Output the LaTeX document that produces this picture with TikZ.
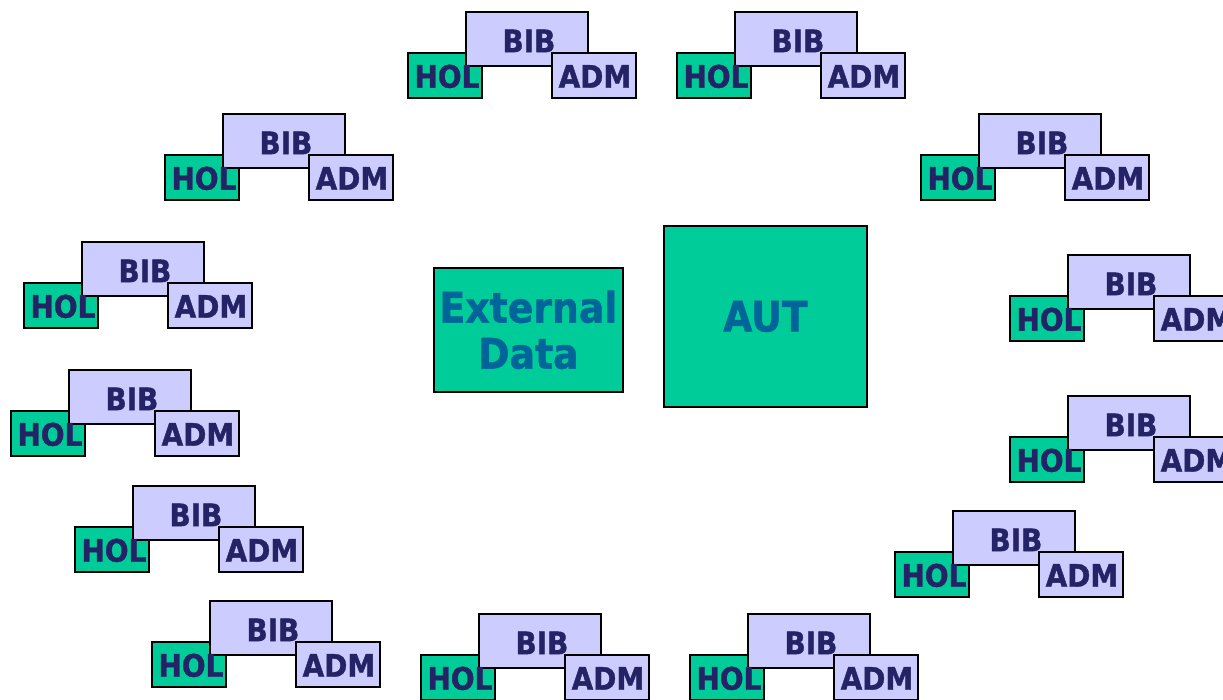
\documentclass[tikz,border=0pt]{standalone}
\usepackage{fontspec}
\setmainfont{DejaVu Sans Condensed}[BoldFeatures={FakeBold=1.2}]
\usepackage{tikz}
\usetikzlibrary{positioning}

\definecolor{holgreen}{HTML}{00CC99}
\definecolor{biblav}{HTML}{CCCCFF}
\definecolor{lblnavy}{HTML}{232366}
\definecolor{autblue}{HTML}{006699}

\tikzset{
  box/.style={draw=black, line width=1.8pt, rectangle, inner sep=0pt, anchor=north west},
  holbox/.style={box, fill=holgreen, minimum width=74pt, minimum height=45pt},
  bibbox/.style={box, fill=biblav, minimum width=122pt, minimum height=54pt},
  admbox/.style={box, fill=biblav, minimum width=84pt, minimum height=45pt},
  lbl/.style={font=\fontsize{31}{31}\selectfont\bfseries, text=lblnavy, inner sep=0pt},
  biglbl/.style={font=\fontsize{42}{46}\selectfont\bfseries, text=autblue, inner sep=0pt, align=center}
}

\begin{document}
\begin{tikzpicture}[x=1pt, y=-1pt]
    \useasboundingbox (0,0) rectangle (1223,700);

    % Draw the central boxes
    \node[box, fill=holgreen, minimum width=189pt, minimum height=124pt] (ext) at (433,267) {};
    \node[box, fill=holgreen, minimum width=203pt, minimum height=181pt] (aut) at (663,225) {};
    \node[biglbl] at (ext.center) {External\\Data};
    \node[biglbl] at (aut.center) {AUT};

    % Draw the groups around them
    \foreach \x/\y/\g in {407/52/g1, 676/52/g2, 164/154/g3, 920/154/g4,
                          23/282/g5, 1009/295/g6, 10/410/g7, 1009/436/g8,
                          74/526/g9, 894/551/g10, 151/641/g11, 420/654/g12, 689/654/g13} {
      \node[holbox] (\g hol) at (\x,\y) {};
      \node[bibbox] (\g bib) at (\x+58,\y-41) {};
      \node[admbox] (\g adm) at (\x+144,\y) {};
    }

    % Add labels
    \foreach \g in {g1,g2,g3,g4,g5,g6,g7,g8,g9,g10,g11,g12,g13} {
      \node[lbl] at ([xshift=2pt,yshift=-1pt]\g hol.center) {HOL};
      \node[lbl] at ([xshift=2pt,yshift=-2pt]\g bib.center) {BIB};
      \node[lbl] at ([xshift=1pt,yshift=-1pt]\g adm.center) {ADM};
    }
  \end{tikzpicture}
\end{document}
